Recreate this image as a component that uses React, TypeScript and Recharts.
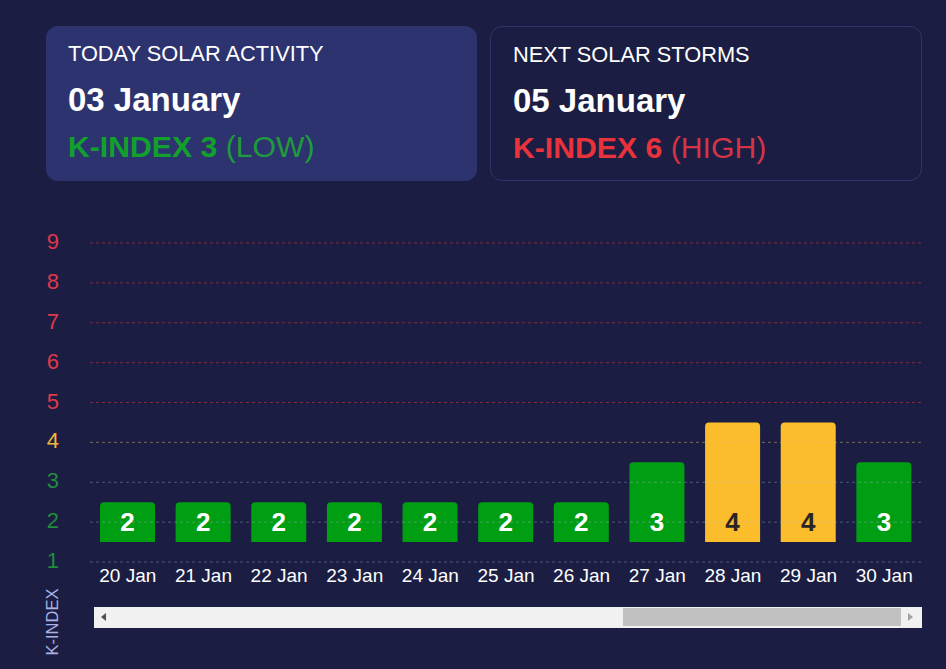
import React from "react";
import { BarChart, Bar, XAxis, YAxis, Cell, LabelList, ReferenceLine } from "recharts";

const days = ["20 Jan", "21 Jan", "22 Jan", "23 Jan", "24 Jan", "25 Jan", "26 Jan", "27 Jan", "28 Jan", "29 Jan", "30 Jan"];
const kIndex = [2, 2, 2, 2, 2, 2, 2, 3, 4, 4, 3];
const yTicks = [1, 2, 3, 4, 5, 6, 7, 8, 9];
const BAR_BASE = 1.5;

const today = { title: "TODAY SOLAR ACTIVITY", date: "03 January", k: 3, level: "(LOW)" };
const next = { title: "NEXT SOLAR STORMS", date: "05 January", k: 6, level: "(HIGH)" };

const data = days.map((d, i) => ({ day: d, k: kIndex[i] }));

const FONT = "'Liberation Sans', Arial, sans-serif";
const BG = "#1b1e42";

const tickColor = (v: number) => (v >= 5 ? "#e0384a" : v === 4 ? "#f2b53d" : "#1e8c3c");
const gridColor = (v: number) =>
  v >= 5 ? "rgba(220,53,69,0.55)" : v === 4 ? "rgba(230,190,110,0.45)" : "rgba(190,190,225,0.35)";
const barColor = (v: number) => (v >= 5 ? "#e8323c" : v === 4 ? "#fbbd2b" : "#009f13");

const YTick = (props: any) => {
  const { x, y, payload } = props;
  return (
    <text x={x} y={y} dy={6} textAnchor="end" fill={tickColor(payload.value)} fontSize={22} fontFamily={FONT}>
      {payload.value}
    </text>
  );
};

const XTick = (props: any) => {
  const { x, y, payload } = props;
  return (
    <text x={x} y={y} dy={20} textAnchor="middle" fill="#ffffff" fontSize={19} fontFamily={FONT}>
      {payload.value}
    </text>
  );
};

const BarLabel = (props: any) => {
  const { x, y, width, height, value } = props;
  return (
    <text
      x={x + width / 2}
      y={y + height - 11}
      textAnchor="middle"
      fill={value === 4 ? "#2b2424" : "#ffffff"}
      fontSize={26}
      fontWeight="bold"
      fontFamily={FONT}
    >
      {value}
    </text>
  );
};

const Card = ({ info, left, filled, color, levelColor }: any) => (
  <div
    style={{
      position: "absolute",
      left,
      top: 26,
      width: filled ? 431 : 430,
      height: filled ? 155 : 153,
      borderRadius: 12,
      background: filled ? "#2d336f" : "transparent",
      border: filled ? "none" : "1px solid #30366a",
      fontFamily: FONT,
    }}
  >
    <div style={{ position: "absolute", left: 22, top: 17, fontSize: 21.8, lineHeight: "22px", color: "#ffffff", whiteSpace: "nowrap" }}>
      {info.title}
    </div>
    <div style={{ position: "absolute", left: 22, top: 57, fontSize: 33, lineHeight: "33px", fontWeight: "bold", color: "#ffffff", whiteSpace: "nowrap" }}>
      {info.date}
    </div>
    <div style={{ position: "absolute", left: 22, top: 106, fontSize: 30.2, lineHeight: "30px", whiteSpace: "nowrap" }}>
      <span style={{ fontWeight: "bold", color }}>K-INDEX {info.k}</span>
      <span style={{ color: levelColor }}> {info.level}</span>
    </div>
  </div>
);

export default function App() {
  return (
    <div style={{ position: "absolute", left: 0, top: 0, width: 946, height: 669, background: BG, overflow: "hidden" }}>
      <Card info={today} left={46} filled color="#12a02c" levelColor="#1f9a3c" />
      <Card info={next} left={490} color="#e8323c" levelColor="#d63346" />

      <div style={{ position: "absolute", left: 0, top: 220 }}>
        <BarChart width={946} height={380} data={data} margin={{ top: 23, right: 24, left: 0, bottom: 8 }}>
          {yTicks.map((t) => (
            <ReferenceLine key={t} y={t} stroke={gridColor(t)} strokeDasharray="3 3" ifOverflow="extendDomain" />
          ))}
          <XAxis dataKey="day" axisLine={false} tickLine={false} tickSize={0} tickMargin={0} height={30} tick={<XTick />} interval={0} />
          <YAxis
            type="number"
            domain={[1, 9]}
            ticks={yTicks}
            width={90}
            axisLine={false}
            tickLine={false}
            tickSize={0}
            tickMargin={31}
            tick={<YTick />}
            interval={0}
          />
          <Bar dataKey={(d: any) => [BAR_BASE, d.k + 0.5]} barSize={55} radius={[4, 4, 0, 0]} isAnimationActive={false}>
            {data.map((d, i) => (
              <Cell key={i} fill={barColor(d.k)} />
            ))}
            <LabelList dataKey="k" content={<BarLabel />} />
          </Bar>
        </BarChart>
      </div>

      <div
        style={{
          position: "absolute",
          left: 12,
          top: 612,
          width: 80,
          height: 20,
          lineHeight: "20px",
          textAlign: "center",
          transform: "rotate(-90deg)",
          color: "#a9b1e6",
          fontSize: 16.5,
          fontFamily: FONT,
        }}
      >
        K-INDEX
      </div>

      <div style={{ position: "absolute", left: 94, top: 607, width: 828, height: 21, background: "#f1f1f1" }}>
        <div
          style={{
            position: "absolute",
            left: 7,
            top: 6,
            width: 0,
            height: 0,
            borderTop: "4.5px solid transparent",
            borderBottom: "4.5px solid transparent",
            borderRight: "5px solid #505050",
          }}
        />
        <div style={{ position: "absolute", left: 529, top: 1, width: 278, height: 18, background: "#c1c1c1" }} />
        <div
          style={{
            position: "absolute",
            left: 814,
            top: 6,
            width: 0,
            height: 0,
            borderTop: "4.5px solid transparent",
            borderBottom: "4.5px solid transparent",
            borderLeft: "5px solid #a3a3a3",
          }}
        />
      </div>
    </div>
  );
}
